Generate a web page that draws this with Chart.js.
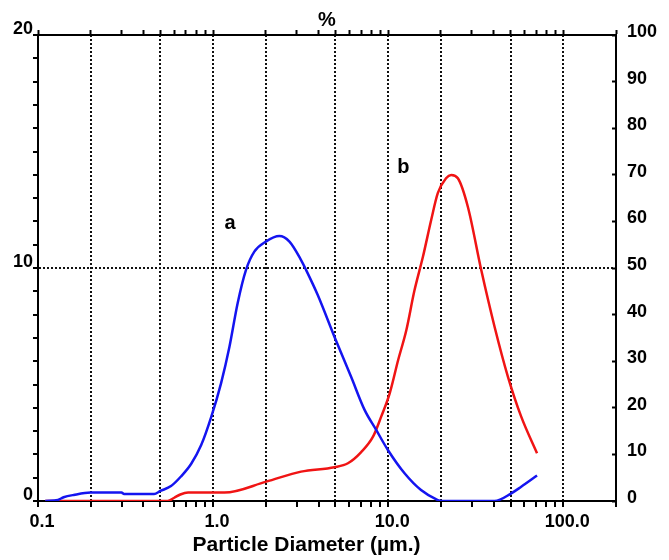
<!DOCTYPE html>
<html><head><meta charset="utf-8">
<script src="https://cdn.jsdelivr.net/npm/chart.js@4/dist/chart.umd.min.js"></script>
<style>html,body{margin:0;padding:0;background:#fff;}#wrap{width:669px;height:560px;}</style>
</head><body><div id="wrap"><canvas id="c" width="669" height="560"></canvas></div>
<script>
// Curve a (blue): particle diameter (µm) and % values
const diametersA = [0.11, 0.13, 0.14, 0.16, 0.2, 0.3, 0.31, 0.46, 0.5, 0.575, 0.655, 0.75, 0.855, 0.975, 1.11, 1.24, 1.38, 1.54, 1.72, 2.0, 2.39, 2.73, 3.18, 3.4, 3.96, 4.93, 6.14, 7.33, 8.54, 9.96, 12.4, 15.4, 19.2, 20.1, 40.5, 50.5, 57.5, 70.8];
const percentA   = [0, 0.05, 0.16, 0.26, 0.36, 0.36, 0.3, 0.3, 0.43, 0.64, 1.05, 1.6, 2.4, 3.6, 5.05, 6.62, 8.48, 9.91, 10.7, 11.13, 11.37, 11.13, 10.34, 9.91, 8.84, 7.05, 5.33, 3.91, 3.05, 2.19, 1.19, 0.47, 0.04, 0, 0, 0.33, 0.61, 1.09];
// Curve b (red)
const diametersB = [0.11, 0.55, 0.6, 0.65, 0.72, 1.16, 2.01, 3.18, 4.93, 5.89, 7.01, 8.19, 9.12, 10.2, 11.4, 12.7, 14.1, 15.8, 17.6, 19.2, 21.4, 22.9, 25.0, 28.5, 34.0, 40.5, 48.3, 57.5, 70.8];
const percentB   = [0, 0, 0.14, 0.28, 0.36, 0.36, 0.83, 1.26, 1.45, 1.62, 2.1, 2.76, 3.62, 4.62, 6.05, 7.34, 9.01, 10.49, 12.06, 13.21, 13.85, 13.99, 13.85, 12.63, 9.91, 7.48, 5.33, 3.62, 2.05];

// Axes
const xTickValues = [0.1,0.2,0.3,0.4,0.5,0.6,0.7,0.8,0.9,1,2,3,4,5,6,7,8,9,10,20,30,40,50,60,70,80,90,100,200];
const xGridValues = [0.2,0.5,1,2,5,10,20,50,100];
const xLabelValues = [0.1,1,10,100];
const xLabelText = ['0.1','1.0','10.0','100.0'];
const yTickValues = [0,1,2,3,4,5,6,7,8,9,10,11,12,13,14,15,16,17,18,19,20];
const yLabelValues = [0,10,20];
const yGridValues = [10];
const y2TickValues = [0,10,20,30,40,50,60,70,80,90,100];

// Curve labels
const annotationText = ['a','b'];
const annotationX = [1.25, 12.2];
const annotationY = [11.67, 14.08];

const FONT = '"Liberation Sans", Arial, Helvetica, sans-serif';
const near = (v, arr) => arr.some(g => Math.abs(v - g) < 1e-9 * Math.max(1, g));

const labelPlugin = {
  id: 'curveLabels',
  afterDatasetsDraw(chart) {
    const {ctx, scales: {x, y}} = chart;
    ctx.save();
    ctx.font = 'bold 20px ' + FONT;
    ctx.fillStyle = '#000';
    ctx.textAlign = 'center';
    ctx.textBaseline = 'alphabetic';
    annotationText.forEach((t, i) => ctx.fillText(t, x.getPixelForValue(annotationX[i]), y.getPixelForValue(annotationY[i])));
    ctx.restore();
  }
};

const tickFont = {family: FONT, size: 18, weight: 'bold'};

new Chart(document.getElementById('c'), {
  type: 'line',
  data: {
    datasets: [
      {label: 'a', data: diametersA.map((d, i) => ({x: d, y: percentA[i]})), borderColor: '#1414f0', borderWidth: 2.5, pointRadius: 0, fill: false, cubicInterpolationMode: 'monotone', xAxisID: 'x', yAxisID: 'y'},
      {label: 'b', data: diametersB.map((d, i) => ({x: d, y: percentB[i]})), borderColor: '#f01414', borderWidth: 2.5, pointRadius: 0, fill: false, cubicInterpolationMode: 'monotone', xAxisID: 'x', yAxisID: 'y'}
    ]
  },
  options: {
    responsive: false,
    animation: false,
    devicePixelRatio: 1,
    layout: {padding: 0},
    plugins: {legend: {display: false}, tooltip: {enabled: false}},
    scales: {
      x: {
        type: 'logarithmic', position: 'bottom', min: 0.1, max: 200,
        afterBuildTicks: s => { s.ticks = xTickValues.map(v => ({value: v})); },
        afterFit: s => { s.height = 59; },
        ticks: {autoSkip: false, maxRotation: 0, padding: 4, labelOffset: 4, color: '#000', font: tickFont,
          callback: v => { const i = xLabelValues.findIndex(g => Math.abs(g - v) < 1e-9 * Math.max(1, g)); return i >= 0 ? xLabelText[i] : ''; }},
        grid: {color: c => (c.tick && near(c.tick.value, xGridValues)) ? '#111' : 'rgba(0,0,0,0)', lineWidth: 2, tickColor: '#000', tickLength: 6, tickWidth: 2},
        border: {color: '#000', width: 2, dash: [2, 2]},
        title: {display: true, text: 'Particle Diameter (µm.)' + '\u00a0'.repeat(7), color: '#000', font: {family: FONT, size: 21, weight: 'bold'}, padding: {top: 0, bottom: 2}}
      },
      x2: {
        type: 'logarithmic', position: 'top', min: 0.1, max: 200,
        afterBuildTicks: s => { s.ticks = xTickValues.map(v => ({value: v})); },
        afterFit: s => { s.height = 35; },
        ticks: {display: false, autoSkip: false},
        grid: {drawOnChartArea: false, tickColor: '#000', tickLength: 5, tickWidth: 2},
        border: {color: '#000', width: 2},
        title: {display: true, text: '%', color: '#000', font: {family: FONT, size: 20, weight: 'bold'}, padding: {top: 8, bottom: 0}}
      },
      y: {
        type: 'linear', position: 'left', min: 0, max: 20,
        afterBuildTicks: s => { s.ticks = yTickValues.map(v => ({value: v})); },
        afterFit: s => { s.width = 38; },
        ticks: {autoSkip: false, padding: 0, labelOffset: -6, color: '#000', font: tickFont,
          callback: v => yLabelValues.includes(v) ? String(v) : ''},
        grid: {color: c => (c.tick && yGridValues.includes(c.tick.value)) ? '#111' : 'rgba(0,0,0,0)', lineWidth: 2, tickColor: '#000', tickLength: 5, tickWidth: 2},
        border: {color: '#000', width: 2, dash: [2, 2]}
      },
      y2: {
        type: 'linear', position: 'right', min: 0, max: 100,
        afterBuildTicks: s => { s.ticks = y2TickValues.map(v => ({value: v})); },
        afterFit: s => { s.width = 53; },
        ticks: {autoSkip: false, padding: 15, labelOffset: -3, color: '#000', font: tickFont, callback: v => String(v)},
        grid: {drawOnChartArea: false, tickColor: '#000', tickLength: -4, tickWidth: 2},
        border: {color: '#000', width: 2}
      }
    }
  },
  plugins: [labelPlugin]
});
</script></body></html>
